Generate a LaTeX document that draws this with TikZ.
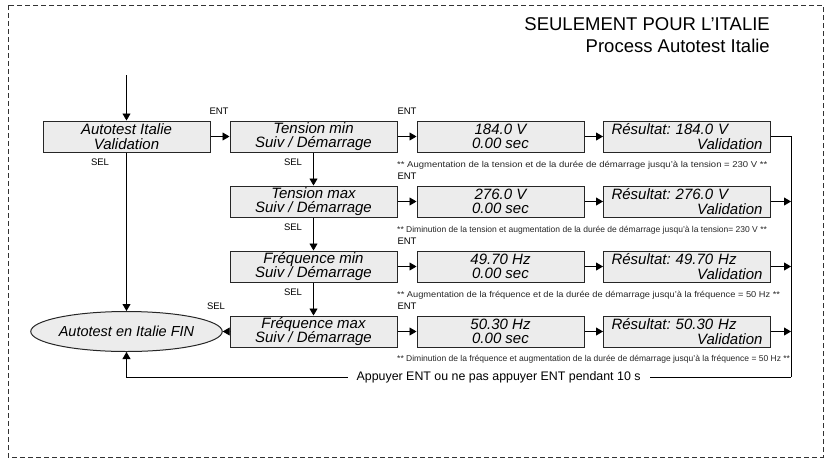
\documentclass[tikz,border=0pt]{standalone}
\usepackage{fontspec}
\setmainfont{Liberation Sans}
\usetikzlibrary{arrows.meta,shapes.geometric}
\begin{document}
\frenchspacing
\begin{tikzpicture}[x=1pt,y=-1pt,
  box/.style={draw=black!85, line width=1pt, fill=gray!15, minimum width=167pt, minimum height=31pt, inner sep=0pt, font=\fontsize{15}{14.5}\selectfont\itshape, align=center},
  resbox/.style={box, text width=151pt, align=left},
  endnode/.style={ellipse, draw=black!85, line width=1pt, fill=gray!15, minimum width=153pt, minimum height=40pt, inner sep=0pt, font=\fontsize{14.5}{15}\selectfont\itshape},
  arr/.style={-{Triangle[length=7pt,width=8pt]}, line width=0.9pt},
  plain/.style={line width=0.9pt},
  lbl/.style={font=\fontsize{9.5}{10}\selectfont, inner sep=0pt},
  note/.style={font=\fontsize{8.5}{9}\selectfont, anchor=west, inner sep=0pt, text=black!85},
  title/.style={font=\fontsize{18.5}{19}\selectfont, anchor=base east, inner sep=0pt}
]
\useasboundingbox (0,0) rectangle (827,461);
\draw[dash pattern=on 5pt off 3pt, line width=0.8pt, black!80] (8,5) rectangle (823,457);

\node[title] (t1) at (770,30) {SEULEMENT POUR L’ITALIE};
\node[title] (t2) at (770,52) {Process Autotest Italie};

% row 1
\node[box] (a1) at (126.5,136.5) {Autotest Italie\\Validation};
\node[box] (s1) at (313.5,136.5) {Tension min\\Suiv / Démarrage};
\node[box] (v1) at (500.5,136.5) {184.0 V\\0.00 sec};
\node[resbox] (r1) at (687,136.5) {Résultat: 184.0 V\\\hspace*{\fill}Validation};
% row 2
\node[box] (s2) at (313.5,201.5) {Tension max\\Suiv / Démarrage};
\node[box] (v2) at (500.5,201.5) {276.0 V\\0.00 sec};
\node[resbox] (r2) at (687,201.5) {Résultat: 276.0 V\\\hspace*{\fill}Validation};
% row 3
\node[box] (s3) at (313.5,266.5) {Fréquence min\\Suiv / Démarrage};
\node[box] (v3) at (500.5,266.5) {49.70 Hz\\0.00 sec};
\node[resbox] (r3) at (687,266.5) {Résultat: 49.70 Hz\\\hspace*{\fill}Validation};
% row 4
\node[box] (s4) at (313.5,331.5) {Fréquence max\\Suiv / Démarrage};
\node[box] (v4) at (500.5,331.5) {50.30 Hz\\0.00 sec};
\node[resbox] (r4) at (687,331.5) {Résultat: 50.30 Hz\\\hspace*{\fill}Validation};

\node[endnode] (fin) at (126.5,331.5) {Autotest en Italie FIN};

% labels
\node[lbl] (e0) at (219,111) {ENT};
\node[lbl] (e1) at (407,111) {ENT};
\node[lbl] (e2) at (407,176) {ENT};
\node[lbl] (e3) at (407,241) {ENT};
\node[lbl] (e4) at (407,306) {ENT};
\node[lbl] (l0) at (100,162) {SEL};
\node[lbl] (l1) at (293,162) {SEL};
\node[lbl] (l2) at (293,227) {SEL};
\node[lbl] (l3) at (293,292) {SEL};
\node[lbl] (l4) at (216,306) {SEL};

\node[note] (n1) at (397,165) {\scalebox{1.12}[1]{** Augmentation de la tension et de la durée de démarrage jusqu’à la tension = 230 V **}};
\node[note] (n2) at (397,230) {\scalebox{1.0}[1]{** Diminution de la tension et augmentation de la durée de démarrage jusqu’à la tension= 230 V **}};
\node[note] (n3) at (397,295) {\scalebox{1.09}[1]{** Augmentation de la fréquence et de la durée de démarrage jusqu’à la fréquence = 50 Hz **}};
\node[note] (n4) at (397,359) {\scalebox{1.0}[1]{** Diminution de la fréquence et augmentation de la durée de démarrage jusqu’à la fréquence = 50 Hz **}};

% connectors
\coordinate (start) at (126.5,75);
\draw[arr] (start) -- (a1);
\draw[arr] (a1) -- (s1);
\draw[arr] (a1) -- (fin);
\draw[arr] (s1) -- (s2);
\draw[arr] (s2) -- (s3);
\draw[arr] (s3) -- (s4);
\draw[arr] (s4) -- (fin);
\foreach \i in {1,2,3,4}{
  \draw[arr] (s\i) -- (v\i);
  \draw[arr] (v\i) -- (r\i);
}
\coordinate (rc1) at (791,136.5);
\coordinate (rbot) at (791,377);
\draw[plain] (r1.east) -- (rc1) -- (rbot);
\draw[arr] (r2.east) -- (r2.east -| rc1);
\draw[arr] (r3.east) -- (r3.east -| rc1);
\draw[arr] (r4.east) -- (r4.east -| rc1);
\draw[arr] (rbot) -- node[pos=0.44, fill=white, inner xsep=9pt, inner ysep=1pt, font=\fontsize{12.4}{13}\selectfont] (msg) {Appuyer ENT ou ne pas appuyer ENT pendant 10 s} (fin.south |- rbot) -- (fin.south);
\end{tikzpicture}
\end{document}
